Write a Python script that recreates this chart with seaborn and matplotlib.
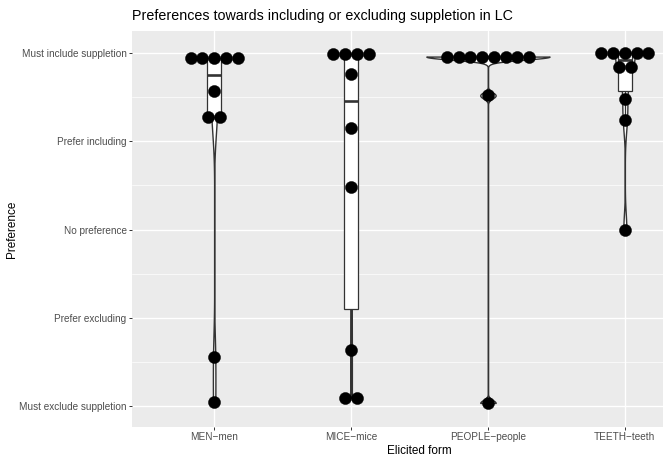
import numpy as np
import pandas as pd
import matplotlib
matplotlib.use("Agg")
import matplotlib.pyplot as plt
import seaborn as sns

# ---------------- data ----------------
forms = ["MEN\u2212men", "MICE\u2212mice", "PEOPLE\u2212people", "TEETH\u2212teeth"]
pref_ticks = [1, 2, 3, 4, 5]
pref_labels = ["Must exclude suppletion", "Prefer excluding", "No preference",
               "Prefer including", "Must include suppletion"]

men_vals = [4.94, 4.94, 4.94, 4.94, 4.94, 4.565, 4.28, 4.28, 1.553, 1.04]
mice_vals = [4.99, 4.99, 4.99, 4.99, 4.76, 4.155, 3.48, 1.636, 1.094, 1.094]
people_vals = [4.96, 4.96, 4.96, 4.96, 4.96, 4.96, 4.96, 4.96, 4.52, 1.034]
teeth_vals = [5.0, 5.0, 5.0, 5.0, 5.0, 4.84, 4.84, 4.48, 4.24, 3.0]

title = "Preferences towards including or excluding suppletion in LC"
xlab = "Elicited form"
ylab = "Preference"

# ---------------- build table ----------------
groups = [men_vals, mice_vals, people_vals, teeth_vals]
df = pd.DataFrame({
    "form": np.repeat(forms, [len(g) for g in groups]),
    "pref": np.concatenate(groups),
})

# ---------------- style ----------------
sns.set_theme(style="white")
plt.rcParams["font.family"] = ["Liberation Sans", "DejaVu Sans"]

W, H = 663, 459
fig = plt.figure(figsize=(W / 100, H / 100), dpi=100)
p_left, p_right, p_top, p_bottom = 132, 707, 31, 426.7
ax = fig.add_axes([p_left / W, 1 - p_bottom / H, (p_right - p_left) / W, (p_bottom - p_top) / H])
ax.set_facecolor("#EBEBEB")
for s in ax.spines.values():
    s.set_visible(False)

outline = "#333333"

# bandwidth per group: R's bw.nrd0 (PEOPLE uses its narrow, near-identical cluster)
def nrd0(v):
    v = np.asarray(v, float)
    sd = v.std(ddof=1)
    q1, q3 = np.percentile(v, [25, 75])
    lo = min(sd, (q3 - q1) / 1.34)
    if lo == 0:
        lo = sd
    return 0.9 * lo * len(v) ** -0.2

bws = {forms[0]: nrd0(men_vals), forms[1]: nrd0(mice_vals),
       forms[2]: 0.035, forms[3]: nrd0(teeth_vals)}

# ggplot-like "area" scaling: widths proportional to each group's peak density
def peak_density(v, bw):
    v = np.asarray(v, float)
    grid = np.linspace(v.min(), v.max(), 4000)
    d = np.exp(-0.5 * ((grid[:, None] - v[None, :]) / bw) ** 2).sum(1) / (len(v) * bw * np.sqrt(2 * np.pi))
    return d.max()

peaks = {f: peak_density(g, bws[f]) for f, g in zip(forms, groups)}
pmax = max(peaks.values())

for f in forms:
    sub = df[df["form"] == f]
    bw = bws[f]
    sns.violinplot(data=sub, x="form", y="pref", order=forms, ax=ax,
                   cut=0, gridsize=3000, inner=None,
                   bw_method=(lambda k, b=bw: b / np.std(k.dataset, ddof=1)),
                   density_norm="width", width=0.9 * peaks[f] / pmax,
                   color="white", saturation=1, linecolor=outline, linewidth=1.0)

sns.boxplot(data=df, x="form", y="pref", order=forms, ax=ax, width=0.1,
            color="white", saturation=1, linecolor=outline, linewidth=0.9,
            showfliers=False, showcaps=False,
            medianprops=dict(linewidth=1.9, color=outline))

# centred dot stacks (dotplot-like)
step = 11.7 / ((p_right - p_left) / 4.2)
xs, ys = [], []
for ci, g in enumerate(groups):
    g = np.asarray(g)
    for val in np.unique(g):
        k = int((g == val).sum())
        for j in range(k):
            xs.append(ci + (j - (k - 1) / 2) * step)
            ys.append(val)
ax.scatter(xs, ys, s=76, c="black", edgecolors="black", linewidths=0.3, zorder=5)

# axes / grid
ax.set_xlim(-0.6, 3.6)
ax.set_ylim(0.765, 5.25)
ax.set_xticks(range(len(forms)))
ax.set_xticklabels(forms)
ax.set_yticks(pref_ticks)
ax.set_yticklabels(pref_labels)
ax.set_yticks([1.5, 2.5, 3.5, 4.5], minor=True)
ax.set_axisbelow(True)
ax.grid(which="major", color="white", linewidth=1.0)
ax.grid(which="minor", axis="y", color="white", linewidth=0.5)
ax.tick_params(axis="both", which="major", length=2.3, width=0.7, color=outline,
               labelsize=7.2, labelcolor="#4D4D4D", pad=1.6, left=True, bottom=True)
ax.tick_params(which="minor", length=0)
ax.set_xlabel(xlab, fontsize=8.5, color="black", labelpad=2)
ax.set_ylabel(ylab, fontsize=8.5, color="black", labelpad=0.5)

fig.text(p_left / W, 1 - 20 / H, title, fontsize=10.3, color="black",
         ha="left", va="baseline")

fig.savefig("out.png", dpi=100)
